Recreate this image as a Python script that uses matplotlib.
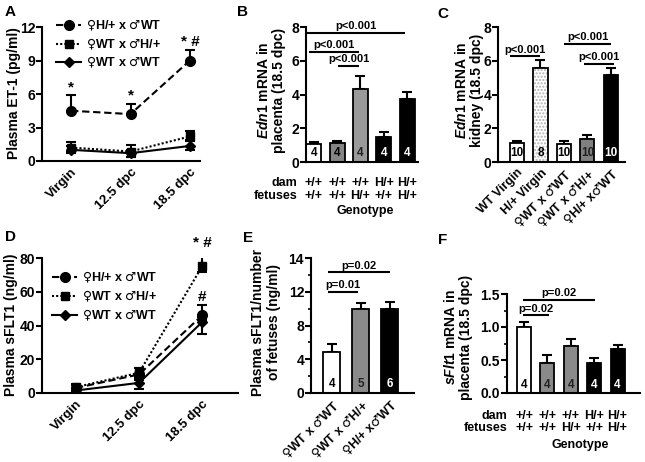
import matplotlib
matplotlib.use('Agg')
import matplotlib.pyplot as plt
from matplotlib.lines import Line2D

plt.rcParams['font.family'] = ['Liberation Sans', 'DejaVu Sans']
plt.rcParams['font.weight'] = 'bold'
plt.rcParams['axes.labelweight'] = 'bold'
plt.rcParams['mathtext.fontset'] = 'custom'
plt.rcParams['mathtext.it'] = 'Liberation Sans:italic:bold'
plt.rcParams['mathtext.rm'] = 'Liberation Sans:bold'
plt.rcParams['mathtext.bf'] = 'Liberation Sans:bold'
plt.rcParams['mathtext.sf'] = 'DejaVu Sans'

F_ = '$\\mathsf{\u2640}$'
M_ = '$\\mathsf{\u2642}$'

# ---------------- data ----------------
time_labels = ['Virgin', '12.5 dpc', '18.5 dpc']
series_labels = [F_ + 'H/+ x ' + M_ + 'WT', F_ + 'WT x ' + M_ + 'H/+', F_ + 'WT x ' + M_ + 'WT']

A_hwt = [4.5, 4.2, 9.0]
A_hwt_lo = [0.0, 0.0, 0.0]
A_hwt_hi = [1.4, 0.9, 0.9]
A_wth = [1.2, 0.85, 2.2]
A_wth_lo = [0.3, 0.45, 0.3]
A_wth_hi = [0.5, 0.55, 0.5]
A_wtwt = [1.0, 0.7, 1.35]
A_wtwt_lo = [0.3, 0.35, 0.4]
A_wtwt_hi = [0.3, 0.3, 0.45]

D_hwt = [3.0, 11.0, 46.0]
D_hwt_lo = [1.0, 2.0, 3.0]
D_hwt_hi = [1.5, 4.0, 6.0]
D_wth = [3.5, 12.0, 75.0]
D_wth_lo = [1.0, 2.0, 3.0]
D_wth_hi = [2.0, 3.0, 9.0]
D_wtwt = [1.5, 6.0, 42.0]
D_wtwt_lo = [1.0, 3.5, 7.0]
D_wtwt_hi = [1.0, 2.0, 3.0]

geno_dam = ['+/+', '+/+', '+/+', 'H/+', 'H/+']
geno_fet = ['+/+', '+/+', 'H/+', '+/+', 'H/+']

B_vals = [1.05, 1.1, 4.35, 1.5, 3.75]
B_err = [0.12, 0.12, 0.75, 0.3, 0.42]
B_n = ['4', '4', '4', '4', '4']

C_cats = ['WT Virgin', 'H/+ Virgin', F_ + 'WT x ' + M_ + 'WT', F_ + 'WT x ' + M_ + 'H/+', F_ + 'H/+ x' + M_ + 'WT']
C_vals = [1.1, 5.55, 1.05, 1.35, 5.15]
C_err = [0.12, 0.48, 0.17, 0.27, 0.4]
C_n = ['10', '8', '10', '10', '10']

E_cats = [F_ + 'WT x ' + M_ + 'WT', F_ + 'WT x ' + M_ + 'H/+', F_ + 'H/+ x' + M_ + 'WT']
E_vals = [4.86, 10.0, 10.0]
E_err = [0.95, 0.7, 0.8]
E_n = ['4', '5', '6']
E_ticks = [0, 4, 8, 12, 16]
E_ticklabels = ['0', '4', '8', '12', '14']

F_vals = [1.005, 0.46, 0.71, 0.45, 0.66]
F_err = [0.075, 0.115, 0.11, 0.075, 0.07]
F_n = ['4', '4', '4', '4', '4']

# ---------------- layout helpers ----------------
W, H = 645, 462
fig = plt.figure(figsize=(W / 100, H / 100), dpi=100)


def rect(l, t, r, b):
    return [l / W, 1 - b / H, (r - l) / W, (b - t) / H]


def fx(x):
    return x / W


def fy(y):
    return 1 - y / H


def base(ax):
    for s in ['top', 'right']:
        ax.spines[s].set_visible(False)
    for s in ['left', 'bottom']:
        ax.spines[s].set_linewidth(1.5)
    ax.tick_params(axis='y', width=1.5, length=4, labelsize=10, pad=1)
    ax.tick_params(axis='x', length=0, labelsize=9)


def sig(ax, x1, x2, y, txt, dy):
    ax.plot([x1, x2], [y, y], color='k', lw=1.5, clip_on=False, solid_capstyle='butt')
    ax.text((x1 + x2) / 2, y + dy, txt, ha='center', va='bottom', fontsize=8)


def bars(ax, vals, errs, colors, ns, ncols, width, hatch_idx=None):
    x = list(range(len(vals)))
    for i in x:
        if hatch_idx is not None and i == hatch_idx:
            ax.bar(i, vals[i], width, color='white', edgecolor='#b0b0b0', hatch='.....',
                   linewidth=0, zorder=2)
            ax.bar(i, vals[i], width, fill=False, edgecolor='k', linewidth=1.3, zorder=3)
        else:
            ax.bar(i, vals[i], width, color=colors[i], edgecolor='k', linewidth=1.3, zorder=2)
    ax.errorbar(x, vals, yerr=[[0] * len(vals), errs], fmt='none', ecolor='k',
                elinewidth=1.5, capsize=3.5, capthick=1.5, zorder=1)
    for i in x:
        ax.text(i, 0.025, ns[i], transform=ax.get_xaxis_transform(), ha='center',
                va='bottom', fontsize=8.5, color=ncols[i], zorder=4)


def line_panel(ax, data, ylim, yticks, xlim):
    styles = [((0, (3.5, 1.8)), 'o', 7), ((0, (1, 1)), 's', 6), ('-', 'D', 5.5)]
    x = [0, 1, 2]
    handles = []
    for (v, lo, hi), (ls, mk, ms), lab in zip(data, styles, series_labels):
        ax.errorbar(x, v, yerr=[lo, hi], fmt='none', ecolor='k', elinewidth=1.5,
                    capsize=3.5, capthick=1.5, zorder=2)
        ax.plot(x, v, linestyle=ls, marker=mk, ms=ms, color='k', lw=1.5, zorder=3)
        handles.append(Line2D([], [], linestyle=ls, marker=mk, ms=ms, color='k', lw=1.5))
    ax.set_xlim(*xlim)
    ax.set_ylim(*ylim)
    ax.set_yticks(yticks)
    ax.set_xticks(x)
    ax.set_xticklabels(time_labels, rotation=45, ha='right', va='top',
                       rotation_mode='anchor', fontsize=9.5)
    return handles


# ---------------- A ----------------
axA = fig.add_axes(rect(42, 27, 200, 161))
base(axA)
hA = line_panel(axA, [(A_hwt, A_hwt_lo, A_hwt_hi), (A_wth, A_wth_lo, A_wth_hi),
                      (A_wtwt, A_wtwt_lo, A_wtwt_hi)], (0, 12), [0, 3, 6, 9, 12], (-0.49, 2.17))
axA.legend(hA, series_labels, loc='upper left', bbox_to_anchor=(fx(56), fy(18)),
           bbox_transform=fig.transFigure, frameon=False, fontsize=9, borderpad=0,
           borderaxespad=0, handlelength=2.0, handletextpad=0.4, labelspacing=0.25)
axA.text(0, 6.0, '*', ha='center', va='bottom', fontsize=11)
axA.text(1, 5.2, '*', ha='center', va='bottom', fontsize=11)
axA.text(2, 10.0, '* #', ha='center', va='bottom', fontsize=11)
fig.text(fx(14), fy(93), 'Plasma ET-1 (pg/ml)', rotation=90, ha='center', va='center', fontsize=10)

# ---------------- B ----------------
axB = fig.add_axes(rect(306, 27, 418, 162))
base(axB)
bars(axB, B_vals, B_err, ['white', '#858585', '#9a9a9a', 'black', 'black'], B_n,
     ['k', 'k', '#222222', 'white', 'white'], 0.64)
axB.set_xlim(-0.34, 4.47)
axB.set_ylim(0, 8)
axB.set_yticks([0, 2, 4, 6, 8])
axB.set_xticks([])
sig(axB, -0.3, 3.9, 7.65, 'p<0.001', 0.1)
sig(axB, -0.2, 1.95, 6.53, 'p<0.001', 0.1)
sig(axB, 1.05, 1.95, 5.7, 'p<0.001', 0.1)
fig.text(fx(271), fy(90), '$\\mathit{Edn1}$ mRNA in\nplacenta (18.5 dpc)', rotation=90,
         ha='center', va='center', fontsize=10, linespacing=1.1)
for i in range(5):
    xc = fig.transFigure.inverted().transform(axB.transData.transform((i, 0)))[0]
    fig.text(xc, fy(183), geno_dam[i], ha='center', va='center', fontsize=9)
    fig.text(xc, fy(196), geno_fet[i], ha='center', va='center', fontsize=9)
fig.text(fx(297), fy(183), 'dam', ha='right', va='center', fontsize=9)
fig.text(fx(297), fy(196), 'fetuses', ha='right', va='center', fontsize=9)
fig.text(fx(365), fy(211), 'Genotype', ha='center', va='center', fontsize=9)

# ---------------- C ----------------
axC = fig.add_axes(rect(498, 27, 625, 162))
base(axC)
bars(axC, C_vals, C_err, ['white', 'white', 'white', '#808080', 'black'], C_n,
     ['k', 'k', 'k', '#222222', 'white'], 0.6, hatch_idx=1)
axC.set_xlim(-0.81, 4.6)
axC.set_ylim(0, 8)
axC.set_yticks([0, 2, 4, 6, 8])
axC.set_xticks(range(5))
axC.set_xticklabels(C_cats, rotation=45, ha='right', va='top', rotation_mode='anchor', fontsize=9)
sig(axC, -0.3, 1.0, 6.27, 'p<0.001', 0.1)
sig(axC, 2.0, 4.0, 7.0, 'p<0.001', 0.1)
sig(axC, 2.85, 4.15, 5.83, 'p<0.001', 0.1)
fig.text(fx(469), fy(90), '$\\mathit{Edn1}$ mRNA in\nkidney (18.5 dpc)', rotation=90,
         ha='center', va='center', fontsize=10, linespacing=1.05)

# ---------------- D ----------------
axD = fig.add_axes(rect(42, 258, 238, 393))
base(axD)
hD = line_panel(axD, [(D_hwt, D_hwt_lo, D_hwt_hi), (D_wth, D_wth_lo, D_wth_hi),
                      (D_wtwt, D_wtwt_lo, D_wtwt_hi)], (0, 80), [0, 20, 40, 60, 80], (-0.54, 2.57))
axD.legend(hD, series_labels, loc='upper left', bbox_to_anchor=(fx(52), fy(270)),
           bbox_transform=fig.transFigure, frameon=False, fontsize=9, borderpad=0,
           borderaxespad=0, handlelength=2.0, handletextpad=0.4, labelspacing=0.3)
axD.text(2, 85, '* #', ha='center', va='bottom', fontsize=11, clip_on=False)
axD.text(2, 53, '#', ha='center', va='bottom', fontsize=11)
fig.text(fx(11), fy(325), 'Plasma sFLT1 (ng/ml)', rotation=90, ha='center', va='center', fontsize=10)

# ---------------- E ----------------
axE = fig.add_axes(rect(311, 258, 414, 393))
base(axE)
bars(axE, E_vals, E_err, ['white', '#8a8a8a', 'black'], E_n, ['k', '#222222', 'white'], 0.59)
axE.set_xlim(-0.72, 2.83)
axE.set_ylim(0, 16)
axE.set_yticks(E_ticks)
axE.set_yticklabels(E_ticklabels)
axE.set_yticks([2, 6, 10, 14], minor=True)
axE.tick_params(axis='y', which='minor', width=1.2, length=2.5)
axE.set_xticks(range(3))
axE.set_xticklabels(E_cats, rotation=45, ha='right', va='top', rotation_mode='anchor', fontsize=9)
sig(axE, -0.15, 2.0, 14.3, 'p=0.02', 0.2)
sig(axE, -0.15, 0.9, 12.0, 'p=0.01', 0.2)
fig.text(fx(266), fy(322), 'Plasma sFLT1/number\nof fetuses (ng/ml)', rotation=90,
         ha='center', va='center', fontsize=10, linespacing=1.1)

# ---------------- F ----------------
axF = fig.add_axes(rect(507, 294, 640, 393))
base(axF)
bars(axF, F_vals, F_err, ['white', '#8a8a8a', '#8a8a8a', 'black', 'black'], F_n,
     ['k', '#222222', '#222222', 'white', 'white'], 0.6)
axF.set_xlim(-0.73, 4.96)
axF.set_ylim(0, 1.5)
axF.set_yticks([0, 0.5, 1.0, 1.5])
axF.set_yticklabels(['0.0', '0.5', '1.0', '1.5'])
axF.set_yticks([0.25, 0.75, 1.25], minor=True)
axF.tick_params(axis='y', which='minor', width=1.2, length=2.5)
axF.set_xticks([])
sig(axF, -0.05, 3.05, 1.416, 'p=0.02', 0.02)
sig(axF, -0.05, 1.05, 1.18, 'p=0.02', 0.02)
fig.text(fx(458), fy(337), '$\\mathit{sFlt1}$ mRNA in\nplacenta (18.5 dpc)', rotation=90,
         ha='center', va='center', fontsize=10, linespacing=1.1)
for i in range(5):
    xc = fig.transFigure.inverted().transform(axF.transData.transform((i, 0)))[0]
    fig.text(xc, fy(416), geno_dam[i], ha='center', va='center', fontsize=9)
    fig.text(xc, fy(428), geno_fet[i], ha='center', va='center', fontsize=9)
fig.text(fx(507), fy(416), 'dam', ha='right', va='center', fontsize=9)
fig.text(fx(507), fy(428), 'fetuses', ha='right', va='center', fontsize=9)
fig.text(fx(580), fy(445), 'Genotype', ha='center', va='center', fontsize=9)

# ---------------- panel letters ----------------
for lab, x, y in [('A', 10, 12), ('B', 242, 12), ('C', 443, 14),
                  ('D', 10, 237), ('E', 248, 238), ('F', 443, 240)]:
    fig.text(fx(x), fy(y), lab, ha='center', va='center', fontsize=11, fontweight='bold')

fig.savefig('out.png', dpi=100)
